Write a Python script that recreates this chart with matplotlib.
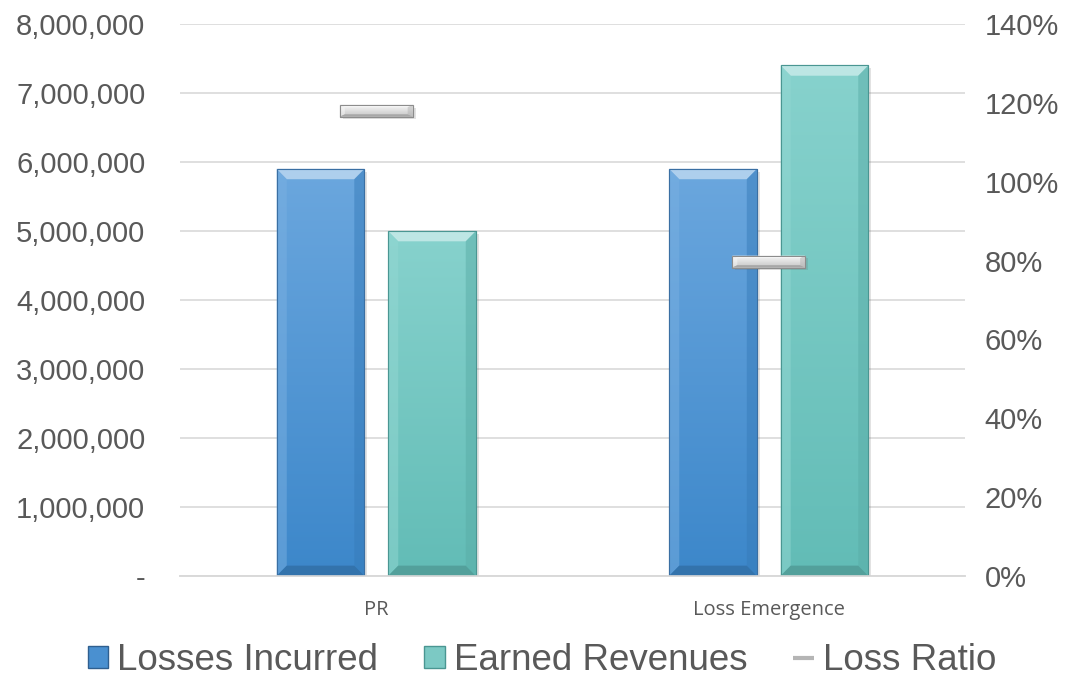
import numpy as np
import matplotlib
matplotlib.use("Agg")
import matplotlib.pyplot as plt
from matplotlib.patches import Rectangle, Polygon
from matplotlib.colors import LinearSegmentedColormap
from matplotlib.ticker import FuncFormatter, PercentFormatter
import matplotlib.patheffects as pe

categories = ["PR", "Loss Emergence"]
losses_incurred = [5_900_000, 5_900_000]
earned_revenues = [5_000_000, 7_400_000]
loss_ratio = [l / r for l, r in zip(losses_incurred, earned_revenues)]

plt.rcParams["font.family"] = ["Liberation Sans", "DejaVu Sans"]
TEXT = "#595959"

fig = plt.figure(figsize=(10.69, 6.81), dpi=100)
ax = fig.add_axes([0.1684, 0.1542, 0.7343, 0.8106])
ax2 = ax.twinx()

x = np.arange(len(categories))
width = 0.224
offset = 0.142

# bevel size in data units (about 10 px each way)
BX = 0.026
BY = 150_000


def lighten(c, f):
    c = np.array(matplotlib.colors.to_rgb(c))
    return tuple(c + (1 - c) * f)


def darken(c, f):
    c = np.array(matplotlib.colors.to_rgb(c))
    return tuple(c * (1 - f))


def bevel_bar(axis, xc, y0, y1, w, top_c, bot_c, edge_c, bx, by, shadow=True):
    x0, x1 = xc - w / 2, xc + w / 2
    rect = Rectangle((x0, y0), w, y1 - y0, facecolor=bot_c, edgecolor=edge_c,
                     linewidth=0.8, zorder=3)
    if shadow:
        rect.set_path_effects([pe.SimplePatchShadow(offset=(2, -2), alpha=0.18,
                                                    shadow_rgbFace="#606060"),
                               pe.Normal()])
    axis.add_patch(rect)
    cmap = LinearSegmentedColormap.from_list("g", [bot_c, top_c])
    grad = np.linspace(0, 1, 256).reshape(-1, 1)
    im = axis.imshow(grad, cmap=cmap, origin="lower", aspect="auto",
                     extent=(x0, x1, y0, y1), zorder=3.1, interpolation="bicubic")
    im.set_clip_path(rect)
    by = min(by, (y1 - y0) / 2)
    # top face
    axis.add_patch(Polygon([(x0, y1), (x1, y1), (x1 - bx, y1 - by), (x0 + bx, y1 - by)],
                           closed=True, facecolor=lighten(top_c, 0.45),
                           edgecolor="none", zorder=3.2))
    # left face
    axis.add_patch(Polygon([(x0, y1), (x0 + bx, y1 - by), (x0 + bx, y0 + by), (x0, y0)],
                           closed=True, facecolor=lighten(top_c, 0.10),
                           edgecolor="none", zorder=3.2, alpha=0.5))
    # right face
    axis.add_patch(Polygon([(x1, y1), (x1 - bx, y1 - by), (x1 - bx, y0 + by), (x1, y0)],
                           closed=True, facecolor=darken(bot_c, 0.08),
                           edgecolor="none", zorder=3.2, alpha=0.5))
    # bottom face
    axis.add_patch(Polygon([(x0, y0), (x1, y0), (x1 - bx, y0 + by), (x0 + bx, y0 + by)],
                           closed=True, facecolor=darken(bot_c, 0.15),
                           edgecolor="none", zorder=3.2))
    outline = Rectangle((x0, y0), w, y1 - y0, facecolor="none", edgecolor=edge_c,
                        linewidth=0.8, zorder=3.3)
    axis.add_patch(outline)


for i in range(len(categories)):
    bevel_bar(ax, x[i] - offset, 0, losses_incurred[i], width,
              "#6ba7de", "#3c87ca", "#3a6fa3", BX, BY)
    bevel_bar(ax, x[i] + offset, 0, earned_revenues[i], width,
              "#87d2cd", "#62bcb6", "#4a9692", BX, BY)

# loss ratio markers on the secondary axis
mk_w = 0.186
mk_h = 0.030
for i in range(len(categories)):
    bevel_bar(ax2, x[i], loss_ratio[i] - mk_h / 2, loss_ratio[i] + mk_h / 2, mk_w,
              "#f6f6f6", "#c4c4c4", "#8c8c8c", 0.013, 0.006)

ax.set_xlim(-0.5, 1.5)
ax.set_ylim(0, 8_000_000)
ax2.set_ylim(0, 1.4)
ax.set_yticks(np.arange(0, 8_000_001, 1_000_000))
ax2.set_yticks(np.arange(0, 1.41, 0.2))

ax.yaxis.set_major_formatter(FuncFormatter(lambda v, p: "-" if v == 0 else f"{v:,.0f}"))
ax2.yaxis.set_major_formatter(PercentFormatter(1.0, decimals=0))

ax.set_xticks(x)
ax.set_xticklabels(categories, fontsize=14.5, color=TEXT,
                   family=["Open Sans", "DejaVu Sans"])
ax.tick_params(axis="x", length=0, pad=17)
ax.tick_params(axis="y", length=0, pad=25, labelsize=21, labelcolor=TEXT)
ax2.tick_params(axis="y", length=0, pad=14, labelsize=21, labelcolor=TEXT)

ax.grid(axis="y", color="#d9d9d9", linewidth=1.2, zorder=0)
ax.set_axisbelow(True)
for a in (ax, ax2):
    for s in ("top", "left", "right"):
        a.spines[s].set_visible(False)
    a.spines["bottom"].set_color("#d9d9d9")
    a.spines["bottom"].set_linewidth(1.2)
ax2.patch.set_visible(False)

# legend
h1 = Rectangle((0, 0), 1, 1, facecolor="#4a90d0", edgecolor="#2f5f8f")
h2 = Rectangle((0, 0), 1, 1, facecolor="#7cc9c4", edgecolor="#4a9692")
h3 = plt.Line2D([], [], color="#b5b5b5", linewidth=3, solid_capstyle="butt")
fig.legend([h1, h2, h3], ["Losses Incurred", "Earned Revenues", "Loss Ratio"],
           loc="center", bbox_to_anchor=(0.507, 0.03), ncol=3, frameon=False,
           fontsize=26.5, labelcolor=TEXT, handlelength=0.55, handleheight=0.55,
           handletextpad=0.25, columnspacing=1.25, borderpad=0)

fig.savefig("out.png", dpi=100)
